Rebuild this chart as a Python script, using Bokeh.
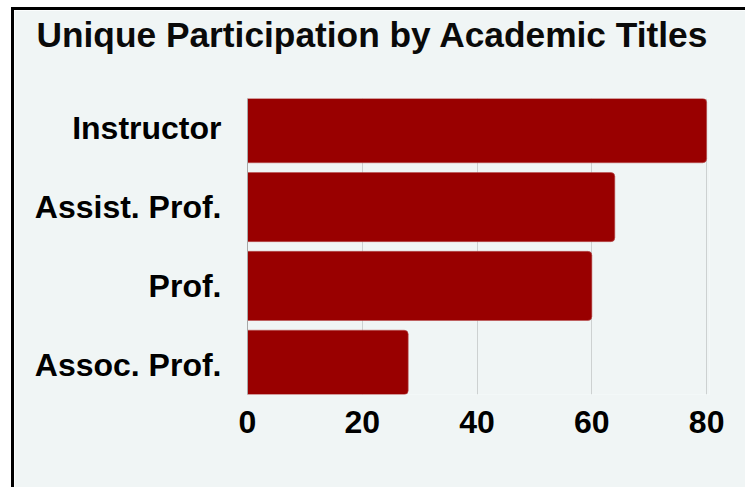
from bokeh.plotting import figure
from bokeh.embed import file_html
from bokeh.resources import INLINE
from bokeh.models import FactorRange, Range1d, FixedTicker, Title

# Data
titles = ["Assoc. Prof.", "Prof.", "Assist. Prof.", "Instructor"]
participants = [28, 60, 64, 80]
x_ticks = [0, 20, 40, 60, 80]
chart_title = "Unique Participation by Academic Titles"

BG = "#f0f5f5"
BAR = "#990000"

p = figure(
    y_range=FactorRange(*titles, range_padding=-0.1235, range_padding_units="absolute"),
    x_range=Range1d(0, 80.5),
    width=734, height=480,
    output_backend="svg", toolbar_location=None,
    min_border_left=233, min_border_top=0, min_border_right=39, min_border_bottom=96,
    background_fill_color=BG, border_fill_color=BG,
)
p.title = None
p.styles = {"border-left": "3px solid black", "border-top": "3px solid black",
            "margin-left": "11px", "margin-top": "7px"}

# empty spacer between the title and the plot frame
spacer = Title(text=" ", text_font="Liberation Sans", text_font_size="20px",
               standoff=14, vertical_align="top")
p.add_layout(spacer, "above")

t = Title(text=chart_title, align="left", vertical_align="top",
          text_font="Liberation Sans", text_font_size="35.3px", text_font_style="bold",
          text_color="#0a0a0a", offset=-211, standoff=9)
p.add_layout(t, "above")

p.hbar(y=titles, right=participants, left=0, height=0.8765,
       fill_color=BAR, line_color="#b85050", line_width=0.6,
       border_radius=(0, 4, 4, 0))

p.outline_line_color = None
p.ygrid.grid_line_color = None
p.xgrid.grid_line_color = "#cdd1d1"
p.xgrid.grid_line_width = 1
p.xaxis.ticker = FixedTicker(ticks=x_ticks)

p.xaxis.axis_line_color = None
p.xaxis.major_tick_line_color = None
p.xaxis.minor_tick_line_color = None
p.xaxis.major_tick_out = 0
p.xaxis.major_label_standoff = 16
p.xaxis.major_label_text_font = "Liberation Sans"
p.xaxis.major_label_text_font_size = "32px"
p.xaxis.major_label_text_font_style = "bold"
p.xaxis.major_label_text_color = "#000000"

p.yaxis.axis_line_color = "#a8a8a8"
p.yaxis.axis_line_width = 1
p.yaxis.major_tick_line_color = None
p.yaxis.minor_tick_line_color = None
p.yaxis.major_tick_out = 0
p.yaxis.major_label_standoff = 26
p.yaxis.major_label_text_font = "Liberation Sans"
p.yaxis.major_label_text_font_size = "32px"
p.yaxis.major_label_text_font_style = "bold"
p.yaxis.major_label_text_color = "#000000"

html = file_html(p, INLINE)
html = html.replace("<body>", '<body style="background:%s">' % BG, 1)
open("out.html", "w").write(html)
